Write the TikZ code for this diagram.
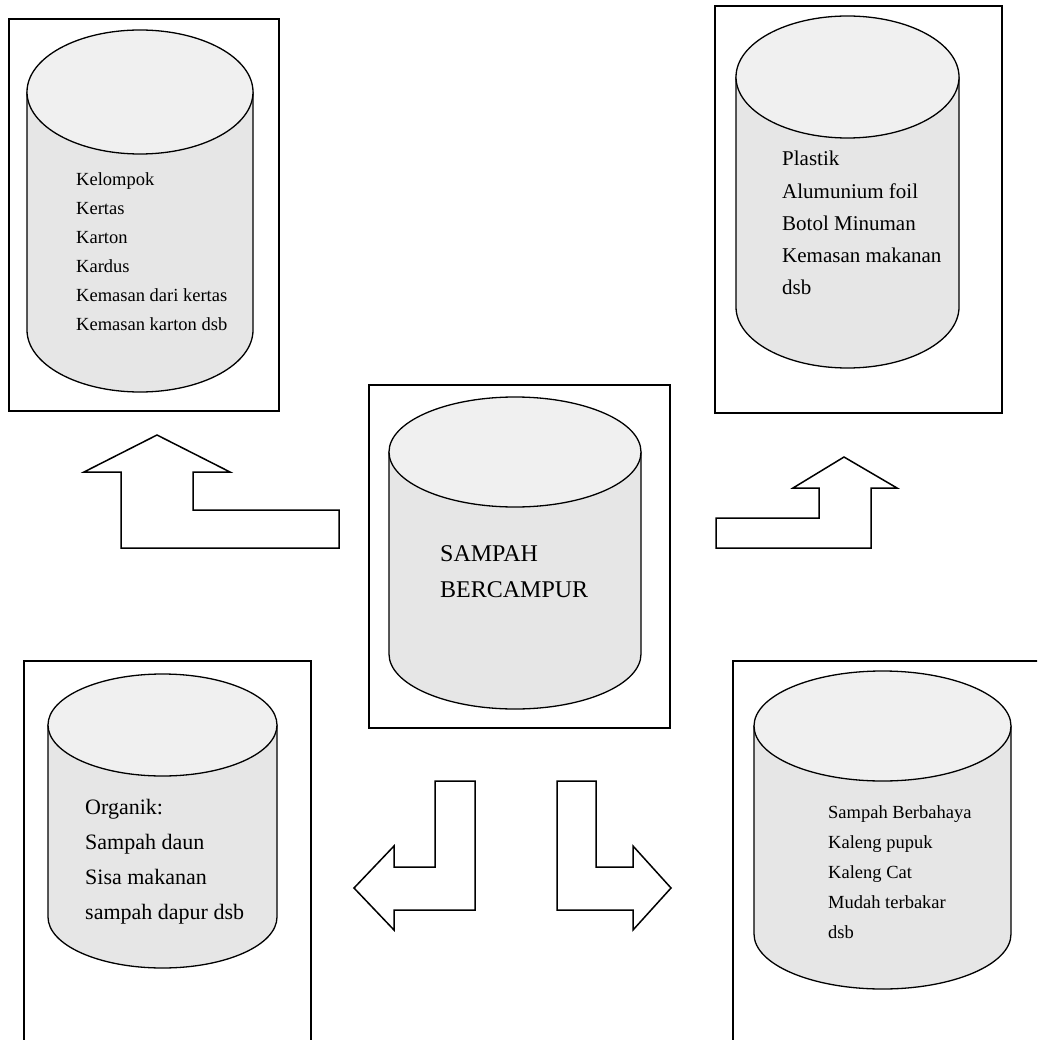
\documentclass[tikz,border=0pt]{standalone}
\usepackage{fontspec}
\setmainfont{Liberation Serif}
\definecolor{cyltop}{HTML}{F0F0F0}
\definecolor{cylbody}{HTML}{E6E6E6}
\newcommand\mycyl[5]{% cx, cyTop, rx, ry, cyBottom
  \filldraw[fill=cylbody, line width=1.3pt, line join=round] (#1-#3,#2) -- (#1-#3,#5)
     arc[start angle=180, end angle=0, x radius=#3, y radius=#4] -- (#1+#3,#2) -- cycle;
  \filldraw[fill=cyltop, line width=1.3pt] (#1,#2) ellipse[x radius=#3, y radius=#4];
}
\tikzset{
  frame/.style={draw, line width=1.3pt},
  blockarrow/.style={draw, line width=1.5pt, fill=white, line join=miter},
  lbl/.style={anchor=base west, inner sep=0pt, text=black},
}
\begin{document}
\begin{tikzpicture}[x=1pt,y=-1pt]
\useasboundingbox (0,0) rectangle (1037,1040);
\fill[white] (0,0) rectangle (1037,1040);
\clip (0,0) rectangle (1037,1040);

% frames
\draw[frame] (9,19) rectangle (279,411);
\draw[frame] (715,6) rectangle (1002,413);
\draw[frame] (369,385) rectangle (670,728);
\draw[frame] (311,1050) -- (311,661) -- (24,661) -- (24,1050);
\draw[frame] (1045,661) -- (733,661) -- (733,1050);

% cylinders
\mycyl{140}{92}{113}{62}{330}
\mycyl{847.5}{77}{111.5}{61}{307}
\mycyl{515}{452}{126}{55}{654}
\mycyl{162.5}{725}{114.5}{51}{917}
\mycyl{882.5}{726}{128.5}{55}{934}

% texts
\foreach \t [count=\i] in {Kelompok,Kertas,Karton,Kardus,Kemasan dari kertas,Kemasan karton dsb}
  \node[lbl, font=\fontsize{18.5}{22}\selectfont] (tl\i) at (76,{186+(\i-1)*28.8}) {\t};
\foreach \t [count=\i] in {Plastik,Alumunium foil,Botol Minuman,Kemasan makanan,dsb}
  \node[lbl, font=\fontsize{21}{25}\selectfont] (tr\i) at (782,{166+(\i-1)*32.2}) {\t};
\foreach \t [count=\i] in {SAMPAH,BERCAMPUR}
  \node[lbl, font=\fontsize{24}{28}\selectfont] (c\i) at (440,{561+(\i-1)*36}) {\t};
\foreach \t [count=\i] in {Organik:,Sampah daun,Sisa makanan,sampah dapur dsb}
  \node[lbl, font=\fontsize{22}{26}\selectfont] (bl\i) at (85,{814+(\i-1)*35}) {\t};
\foreach \t [count=\i] in {Sampah Berbahaya,Kaleng pupuk,Kaleng Cat,Mudah terbakar,dsb}
  \node[lbl, font=\fontsize{18.5}{22}\selectfont] (br\i) at (828,{818+(\i-1)*30}) {\t};

% block arrows
\draw[blockarrow] (157,435) -- (84,472) -- (121,472) -- (121,548) -- (339,548) -- (339,510)
  -- (193,510) -- (193,472) -- (230,472) -- cycle;
\draw[blockarrow] (844,457) -- (897,488) -- (871,488) -- (871,548) -- (716,548) -- (716,518)
  -- (819,518) -- (819,488) -- (793,488) -- cycle;
\draw[blockarrow] (435,781) -- (475,781) -- (475,910) -- (394,910) -- (394,930) -- (354,888)
  -- (394,846) -- (394,867) -- (435,867) -- cycle;
\draw[blockarrow] (557,781) -- (596,781) -- (596,867) -- (633,867) -- (633,846) -- (671,888)
  -- (633,930) -- (633,910) -- (557,910) -- cycle;
\end{tikzpicture}
\end{document}
